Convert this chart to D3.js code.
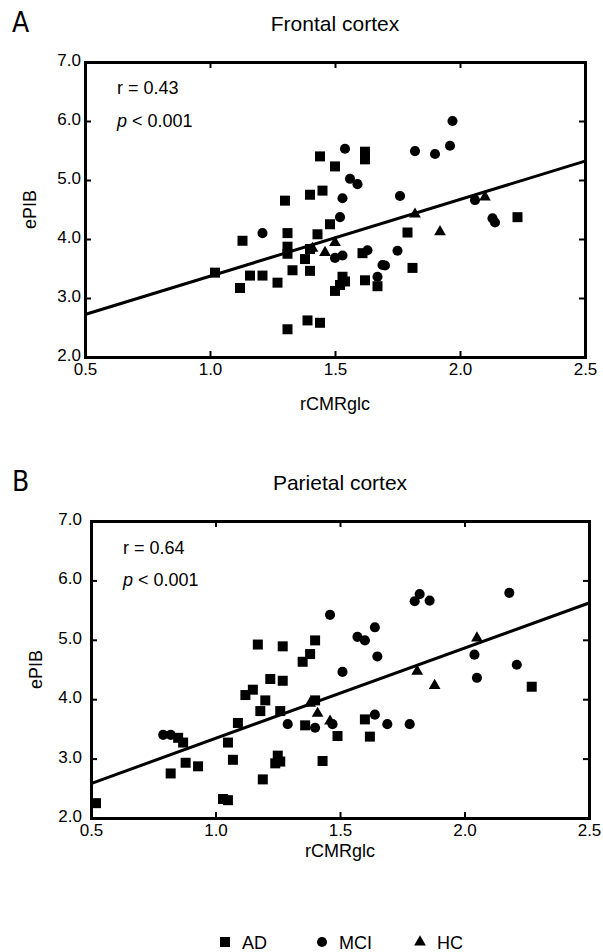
<!DOCTYPE html>
<html>
<head>
<meta charset="utf-8">
<script src="https://cdn.jsdelivr.net/npm/d3@7"></script>
<style>
  body { margin: 0; background: #fff; }
  text { font-family: "Liberation Sans", Arial, sans-serif; fill: #000; }
</style>
</head>
<body>
<div id="chart"></div>
<script>
// ---- data (rCMRglc, ePIB) ----
var frontalAD = [[1.02,3.43],[1.12,3.17],[1.13,3.97],[1.16,3.38],[1.21,3.38],[1.27,3.26],[1.30,4.65],
  [1.31,4.10],[1.31,3.87],[1.31,3.75],[1.33,3.47],[1.31,2.47],[1.38,3.66],[1.39,2.62],[1.40,3.46],
  [1.40,4.75],[1.43,4.08],[1.40,3.83],[1.44,5.40],[1.45,4.82],[1.44,2.58],[1.48,4.25],[1.50,5.23],
  [1.50,3.12],[1.52,3.22],[1.53,3.36],[1.54,3.28],[1.62,5.48],[1.62,5.35],[1.61,3.76],[1.62,3.30],
  [1.67,3.20],[1.79,4.11],[1.81,3.51],[2.23,4.37]];
var frontalMCI = [[1.21,4.10],[1.50,3.68],[1.53,3.72],[1.52,4.37],[1.53,4.69],[1.54,5.53],[1.56,5.02],
  [1.59,4.93],[1.63,3.81],[1.67,3.36],[1.69,3.56],[1.70,3.55],[1.75,3.80],[1.76,4.73],[1.82,5.49],
  [1.90,5.44],[1.96,5.58],[1.97,6.00],[2.06,4.66],[2.13,4.35],[2.14,4.28]];
var frontalHC = [[1.41,3.84],[1.46,3.77],[1.50,3.94],[1.82,4.42],[1.92,4.12],[2.10,4.71]];
var frontalFit = [[0.5,2.72],[2.5,5.32]];

var parietalAD = [[0.52,2.25],[0.82,2.75],[0.85,3.35],[0.87,3.27],[0.88,2.93],[0.93,2.87],[1.03,2.32],
  [1.05,2.30],[1.05,3.27],[1.07,2.98],[1.09,3.60],[1.12,4.07],[1.15,4.16],[1.17,4.92],[1.18,3.80],
  [1.19,2.65],[1.20,3.98],[1.22,4.34],[1.24,2.92],[1.25,3.05],[1.26,2.95],[1.26,3.80],[1.27,4.31],
  [1.27,4.89],[1.35,4.63],[1.36,3.56],[1.38,4.76],[1.40,4.99],[1.40,3.98],[1.43,2.96],[1.49,3.38],
  [1.60,3.66],[1.62,3.37],[2.27,4.21]];
var parietalMCI = [[0.79,3.40],[0.82,3.40],[1.29,3.58],[1.40,3.52],[1.47,3.58],[1.46,5.42],[1.51,4.46],
  [1.57,5.05],[1.60,4.99],[1.64,5.21],[1.65,4.72],[1.64,3.74],[1.69,3.58],[1.78,3.58],[1.80,5.65],
  [1.82,5.77],[1.86,5.66],[2.04,4.75],[2.05,4.36],[2.18,5.79],[2.21,4.58]];
var parietalHC = [[1.38,3.93],[1.41,3.76],[1.46,3.63],[1.81,4.47],[1.88,4.23],[2.05,5.03]];
var parietalFit = [[0.5,2.58],[2.5,5.62]];

var xTicks = [0.5, 1.0, 1.5, 2.0, 2.5];
var yTicks = [2.0, 3.0, 4.0, 5.0, 6.0, 7.0];
var groups = ["AD", "MCI", "HC"];

var width = 603, height = 952;
var svg = d3.select("#chart").append("svg")
  .attr("width", width)
  .attr("height", height);

var symbolType = {AD: d3.symbolSquare, MCI: d3.symbolCircle, HC: d3.symbolTriangle};
var symbolSize = {AD: 100, MCI: 80, HC: 60};

function drawPanel(p) {
  var x = d3.scaleLinear().domain([0.5, 2.5]).range([p.left, p.right]);
  var y = d3.scaleLinear().domain([2, 7]).range([p.bottom, p.top]);
  var g = svg.append("g");

  // letter + title
  g.append("text").attr("x", 12).attr("y", p.top - 30)
    .style("font-family", "'Liberation Sans Narrow', 'DejaVu Sans Condensed', sans-serif")
    .attr("font-size", "28px").text(p.letter);
  g.append("text").attr("x", (p.left + p.right) / 2).attr("y", p.top - 31)
    .attr("text-anchor", "middle").attr("font-size", "21px").text(p.title);

  // axes (inward ticks)
  var xb = g.append("g").attr("transform", "translate(0," + p.bottom + ")")
    .call(d3.axisBottom(x).tickValues(xTicks).tickFormat(d3.format(".1f")).tickSize(-6).tickPadding(p.xPad));
  var xt = g.append("g").attr("transform", "translate(0," + p.top + ")")
    .call(d3.axisTop(x).tickValues(xTicks).tickFormat("").tickSize(-6));
  var yl = g.append("g").attr("transform", "translate(" + p.left + ",0)")
    .call(d3.axisLeft(y).tickValues(yTicks).tickFormat(d3.format(".1f")).tickSize(-6).tickPadding(p.yPad));
  var yr = g.append("g").attr("transform", "translate(" + p.right + ",0)")
    .call(d3.axisRight(y).tickValues(yTicks).tickFormat("").tickSize(-6));
  [xb, xt, yl, yr].forEach(function (a) {
    a.select(".domain").attr("stroke-width", 3);
    a.selectAll(".tick line").attr("stroke-width", 2);
    a.selectAll("text").attr("font-size", "17px")
      .style("font-family", "'Liberation Sans', Arial, sans-serif").attr("fill", "#000");
  });
  yl.selectAll("text").attr("dy", "0.2em");

  // axis titles
  g.append("text").attr("x", (p.left + p.right) / 2).attr("y", p.xLabelY)
    .attr("text-anchor", "middle").attr("font-size", "18px").text("rCMRglc");
  g.append("text").attr("transform", "translate(" + p.yLabelX + "," + ((p.top + p.bottom) / 2) + ") rotate(-90)")
    .attr("text-anchor", "middle").attr("font-size", "18px").text("ePIB");

  // stats
  g.append("text").attr("x", p.left + 32).attr("y", y(6.45)).attr("font-size", "18px").text("r = " + p.r);
  var pt = g.append("text").attr("x", p.left + 32).attr("y", y(6.0) + 6).attr("font-size", "18px");
  pt.append("tspan").attr("font-style", "italic").text("p");
  pt.append("tspan").text(" < 0.001");

  // regression line
  g.append("path").datum(p.fit)
    .attr("fill", "none").attr("stroke", "#000").attr("stroke-width", 3)
    .attr("d", d3.line().x(function (d) { return x(d[0]); }).y(function (d) { return y(d[1]); }));

  // points
  groups.forEach(function (k) {
    g.append("g").selectAll("path").data(p.data[k]).enter().append("path")
      .attr("transform", function (d) { return "translate(" + x(d[0]) + "," + y(d[1]) + ")"; })
      .attr("d", d3.symbol().type(symbolType[k]).size(symbolSize[k]))
      .attr("fill", "#000");
  });
}

drawPanel({letter: "A", title: "Frontal cortex", left: 85, right: 585, top: 62, bottom: 357,
  xPad: 6, yPad: 4, xLabelY: 410, yLabelX: 36, r: "0.43", fit: frontalFit,
  data: {AD: frontalAD, MCI: frontalMCI, HC: frontalHC}});
drawPanel({letter: "B", title: "Parietal cortex", left: 91, right: 589, top: 521, bottom: 818,
  xPad: 6, yPad: 9, xLabelY: 857, yLabelX: 42, r: "0.64", fit: parietalFit,
  data: {AD: parietalAD, MCI: parietalMCI, HC: parietalHC}});

// legend
var legendX = [225, 322, 420];
var legend = svg.append("g").attr("transform", "translate(0,942)");
groups.forEach(function (k, i) {
  legend.append("path").attr("transform", "translate(" + legendX[i] + ",0)")
    .attr("d", d3.symbol().type(symbolType[k]).size(symbolSize[k])).attr("fill", "#000");
  legend.append("text").attr("x", legendX[i] + 17).attr("y", 7).attr("font-size", "18px").text(k);
});
</script>
</body>
</html>
